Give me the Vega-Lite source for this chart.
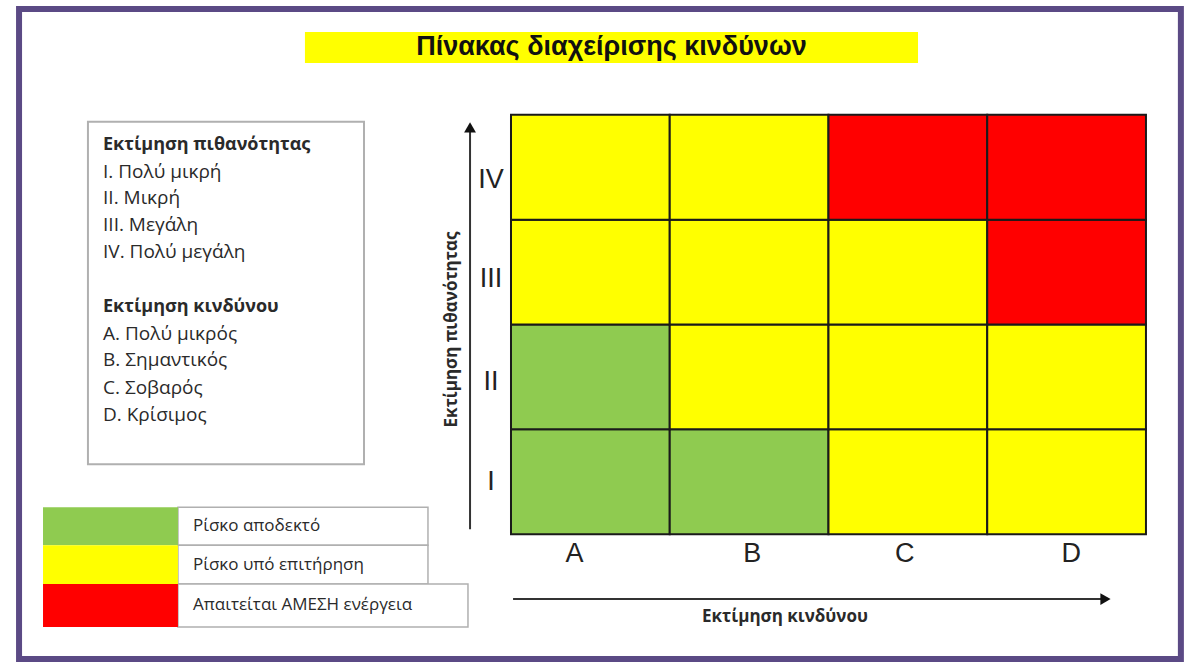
{
  "$schema": "https://vega.github.io/schema/vega-lite/v6.json",
  "width": 1192,
  "height": 662,
  "autosize": {"type": "fit", "contains": "padding"},
  "padding": 0,
  "background": "white",
  "config": {"view": {"stroke": null}},
  "datasets": {
    "cells": [
      {"risk": "A", "prob": "I", "c0": 0, "c1": 1, "r0": 0, "r1": 1, "level": "Ρίσκο αποδεκτό"},
      {"risk": "B", "prob": "I", "c0": 1, "c1": 2, "r0": 0, "r1": 1, "level": "Ρίσκο αποδεκτό"},
      {"risk": "C", "prob": "I", "c0": 2, "c1": 3, "r0": 0, "r1": 1, "level": "Ρίσκο υπό επιτήρηση"},
      {"risk": "D", "prob": "I", "c0": 3, "c1": 4, "r0": 0, "r1": 1, "level": "Ρίσκο υπό επιτήρηση"},
      {"risk": "A", "prob": "II", "c0": 0, "c1": 1, "r0": 1, "r1": 2, "level": "Ρίσκο αποδεκτό"},
      {"risk": "B", "prob": "II", "c0": 1, "c1": 2, "r0": 1, "r1": 2, "level": "Ρίσκο υπό επιτήρηση"},
      {"risk": "C", "prob": "II", "c0": 2, "c1": 3, "r0": 1, "r1": 2, "level": "Ρίσκο υπό επιτήρηση"},
      {"risk": "D", "prob": "II", "c0": 3, "c1": 4, "r0": 1, "r1": 2, "level": "Ρίσκο υπό επιτήρηση"},
      {"risk": "A", "prob": "III", "c0": 0, "c1": 1, "r0": 2, "r1": 3, "level": "Ρίσκο υπό επιτήρηση"},
      {"risk": "B", "prob": "III", "c0": 1, "c1": 2, "r0": 2, "r1": 3, "level": "Ρίσκο υπό επιτήρηση"},
      {"risk": "C", "prob": "III", "c0": 2, "c1": 3, "r0": 2, "r1": 3, "level": "Ρίσκο υπό επιτήρηση"},
      {"risk": "D", "prob": "III", "c0": 3, "c1": 4, "r0": 2, "r1": 3, "level": "Απαιτείται ΑΜΕΣΗ ενέργεια"},
      {"risk": "A", "prob": "IV", "c0": 0, "c1": 1, "r0": 3, "r1": 4, "level": "Ρίσκο υπό επιτήρηση"},
      {"risk": "B", "prob": "IV", "c0": 1, "c1": 2, "r0": 3, "r1": 4, "level": "Ρίσκο υπό επιτήρηση"},
      {"risk": "C", "prob": "IV", "c0": 2, "c1": 3, "r0": 3, "r1": 4, "level": "Απαιτείται ΑΜΕΣΗ ενέργεια"},
      {"risk": "D", "prob": "IV", "c0": 3, "c1": 4, "r0": 3, "r1": 4, "level": "Απαιτείται ΑΜΕΣΗ ενέργεια"}
    ],
    "xlabels": [
      {"label": "A", "x": 0.40, "y": -0.19},
      {"label": "B", "x": 1.52, "y": -0.19},
      {"label": "C", "x": 2.48, "y": -0.19},
      {"label": "D", "x": 3.53, "y": -0.19}
    ],
    "ylabels": [
      {"label": "I", "x": -0.126, "y": 0.5},
      {"label": "II", "x": -0.126, "y": 1.45},
      {"label": "III", "x": -0.126, "y": 2.43},
      {"label": "IV", "x": -0.126, "y": 3.38}
    ],
    "notes": [
      {"label": "Εκτίμηση πιθανότητας", "x": -2.57, "y": 3.714, "kind": "head"},
      {"label": "I. Πολύ μικρή", "x": -2.57, "y": 3.457, "kind": "item"},
      {"label": "II. Μικρή", "x": -2.57, "y": 3.21, "kind": "item"},
      {"label": "III. Μεγάλη", "x": -2.57, "y": 2.952, "kind": "item"},
      {"label": "IV. Πολύ μεγάλη", "x": -2.57, "y": 2.695, "kind": "item"},
      {"label": "Εκτίμηση κινδύνου", "x": -2.57, "y": 2.171, "kind": "head"},
      {"label": "A. Πολύ μικρός", "x": -2.57, "y": 1.914, "kind": "item"},
      {"label": "B. Σημαντικός", "x": -2.57, "y": 1.657, "kind": "item"},
      {"label": "C. Σοβαρός", "x": -2.57, "y": 1.39, "kind": "item"},
      {"label": "D. Κρίσιμος", "x": -2.57, "y": 1.133, "kind": "item"}
    ],
    "legend": [
      {"level": "Ρίσκο αποδεκτό", "sx": -2.948, "sx2": -2.098, "bx2": -0.523, "y": 0.257, "y2": -0.105, "ty": 0.076},
      {"level": "Ρίσκο υπό επιτήρηση", "sx": -2.948, "sx2": -2.098, "bx2": -0.523, "y": -0.105, "y2": -0.476, "ty": -0.295},
      {"level": "Απαιτείται ΑΜΕΣΗ ενέργεια", "sx": -2.948, "sx2": -2.098, "bx2": -0.271, "y": -0.476, "y2": -0.886, "ty": -0.676}
    ]
  },
  "layer": [
    {
      "data": {"values": [{"x": -3.099, "x2": 4.22, "y": 5.01, "y2": -1.19}]},
      "mark": {"type": "rect", "fill": null, "fillOpacity": 0, "stroke": "#5b4a85", "strokeWidth": 6},
      "encoding": {
        "x": {"field": "x", "type": "quantitative", "scale": {"domain": [-3.219, 4.29], "nice": false, "zero": false}, "axis": null},
        "x2": {"field": "x2"},
        "y": {"field": "y", "type": "quantitative", "scale": {"domain": [-1.2095, 5.0952], "nice": false, "zero": false}, "axis": null},
        "y2": {"field": "y2"}
      }
    },
    {
      "data": {"values": [{"x": -1.298, "x2": 2.564, "y": 4.79, "y2": 4.495, "label": "Πίνακας διαχείρισης κινδύνων", "tx": 0.633, "ty": 4.645}]},
      "layer": [
        {
          "mark": {"type": "rect", "fill": "#FFFF00"},
          "encoding": {
            "x": {"field": "x", "type": "quantitative"},
            "x2": {"field": "x2"},
            "y": {"field": "y", "type": "quantitative"},
            "y2": {"field": "y2"}
          }
        },
        {
          "mark": {"type": "text", "font": "Liberation Sans", "fontWeight": "bold", "fontSize": 27, "color": "#111", "align": "center", "baseline": "middle"},
          "encoding": {
            "x": {"field": "tx", "type": "quantitative"},
            "y": {"field": "ty", "type": "quantitative"},
            "text": {"field": "label"}
          }
        }
      ]
    },
    {
      "data": {"values": [{"x": -2.665, "x2": -0.926, "y": 3.933, "y2": 0.667}]},
      "mark": {"type": "rect", "fill": "white", "stroke": "#b0b0b0", "strokeWidth": 2},
      "encoding": {
        "x": {"field": "x", "type": "quantitative"},
        "x2": {"field": "x2"},
        "y": {"field": "y", "type": "quantitative"},
        "y2": {"field": "y2"}
      }
    },
    {
      "data": {"name": "notes"},
      "transform": [{"filter": "datum.kind === 'head'"}],
      "mark": {"type": "text", "font": "Open Sans", "fontWeight": "bold", "fontSize": 18, "align": "left", "baseline": "middle", "color": "#2a2a2a"},
      "encoding": {
        "x": {"field": "x", "type": "quantitative"},
        "y": {"field": "y", "type": "quantitative"},
        "text": {"field": "label"}
      }
    },
    {
      "data": {"name": "notes"},
      "transform": [{"filter": "datum.kind === 'item'"}],
      "mark": {"type": "text", "font": "Open Sans", "fontSize": 19, "align": "left", "baseline": "middle", "color": "#2a2a2a"},
      "encoding": {
        "x": {"field": "x", "type": "quantitative"},
        "y": {"field": "y", "type": "quantitative"},
        "text": {"field": "label"}
      }
    },
    {
      "data": {"name": "legend"},
      "layer": [
        {
          "mark": {"type": "rect", "fill": "white", "stroke": "#b0b0b0", "strokeWidth": 1.5},
          "encoding": {
            "x": {"field": "sx2", "type": "quantitative"},
            "x2": {"field": "bx2"},
            "y": {"field": "y", "type": "quantitative"},
            "y2": {"field": "y2"}
          }
        },
        {
          "mark": {"type": "rect"},
          "encoding": {
            "x": {"field": "sx", "type": "quantitative"},
            "x2": {"field": "sx2"},
            "y": {"field": "y", "type": "quantitative"},
            "y2": {"field": "y2"},
            "color": {"field": "level", "type": "nominal", "scale": {"domain": ["Ρίσκο αποδεκτό", "Ρίσκο υπό επιτήρηση", "Απαιτείται ΑΜΕΣΗ ενέργεια"], "range": ["#8fcb50", "#FFFF00", "#FF0000"]}, "legend": null}
          }
        },
        {
          "mark": {"type": "text", "font": "Open Sans", "fontSize": 17, "align": "left", "baseline": "middle", "color": "#2a2a2a", "dx": 15},
          "encoding": {
            "x": {"field": "sx2", "type": "quantitative"},
            "y": {"field": "ty", "type": "quantitative"},
            "text": {"field": "level"}
          }
        }
      ]
    },
    {
      "data": {"name": "cells"},
      "mark": {"type": "rect", "stroke": "#1a1a1a", "strokeWidth": 2},
      "encoding": {
        "x": {"field": "c0", "type": "quantitative"},
        "x2": {"field": "c1"},
        "y": {"field": "r0", "type": "quantitative"},
        "y2": {"field": "r1"},
        "color": {"field": "level", "type": "nominal", "legend": null}
      }
    },
    {
      "data": {"name": "xlabels"},
      "mark": {"type": "text", "font": "Liberation Sans", "fontSize": 27, "color": "#222", "align": "center", "baseline": "middle"},
      "encoding": {
        "x": {"field": "x", "type": "quantitative"},
        "y": {"field": "y", "type": "quantitative"},
        "text": {"field": "label"}
      }
    },
    {
      "data": {"name": "ylabels"},
      "mark": {"type": "text", "font": "Liberation Sans", "fontSize": 27, "color": "#222", "align": "center", "baseline": "middle"},
      "encoding": {
        "x": {"field": "x", "type": "quantitative"},
        "y": {"field": "y", "type": "quantitative"},
        "text": {"field": "label"}
      }
    },
    {
      "data": {"values": [{"x": -0.258, "y": 0.048, "y2": 3.86}]},
      "mark": {"type": "rule", "color": "#333", "strokeWidth": 2},
      "encoding": {
        "x": {"field": "x", "type": "quantitative"},
        "y": {"field": "y", "type": "quantitative"},
        "y2": {"field": "y2"}
      }
    },
    {
      "data": {"values": [{"x": -0.258, "y": 3.88}]},
      "mark": {"type": "point", "shape": "triangle-up", "filled": true, "color": "#111", "size": 140, "opacity": 1},
      "encoding": {
        "x": {"field": "x", "type": "quantitative"},
        "y": {"field": "y", "type": "quantitative"}
      }
    },
    {
      "data": {"values": [{"x": 0.013, "x2": 3.72, "y": -0.619}]},
      "mark": {"type": "rule", "color": "#333", "strokeWidth": 2},
      "encoding": {
        "x": {"field": "x", "type": "quantitative"},
        "x2": {"field": "x2"},
        "y": {"field": "y", "type": "quantitative"}
      }
    },
    {
      "data": {"values": [{"x": 3.745, "y": -0.619}]},
      "mark": {"type": "point", "shape": "triangle-right", "filled": true, "color": "#111", "size": 140, "opacity": 1},
      "encoding": {
        "x": {"field": "x", "type": "quantitative"},
        "y": {"field": "y", "type": "quantitative"}
      }
    },
    {
      "data": {"values": [{"label": "Εκτίμηση κινδύνου", "x": 1.726, "y": -0.79}]},
      "mark": {"type": "text", "font": "Open Sans", "fontWeight": "bold", "fontSize": 17, "color": "#2a2a2a", "align": "center", "baseline": "middle"},
      "encoding": {
        "x": {"field": "x", "type": "quantitative"},
        "y": {"field": "y", "type": "quantitative"},
        "text": {"field": "label"}
      }
    },
    {
      "data": {"values": [{"label": "Εκτίμηση πιθανότητας", "x": -0.372, "y": 1.952}]},
      "mark": {"type": "text", "font": "Open Sans", "fontWeight": "bold", "fontSize": 17, "color": "#2a2a2a", "align": "center", "baseline": "middle", "angle": 270},
      "encoding": {
        "x": {"field": "x", "type": "quantitative"},
        "y": {"field": "y", "type": "quantitative"},
        "text": {"field": "label"}
      }
    }
  ]
}
